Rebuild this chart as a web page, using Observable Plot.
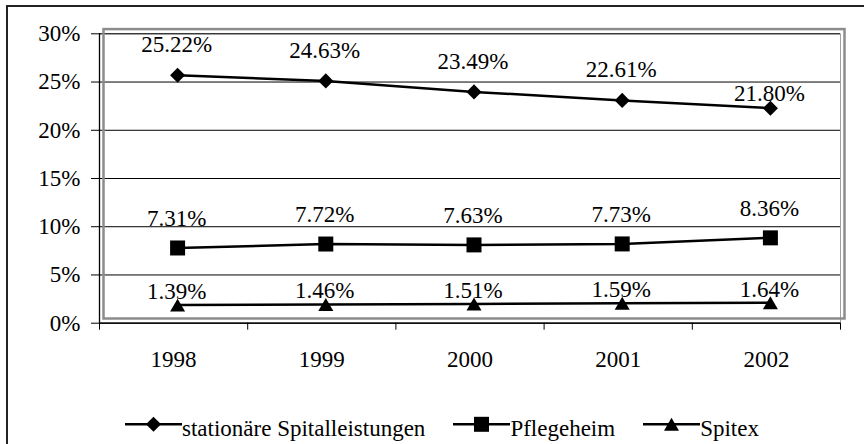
<!DOCTYPE html>
<html><head><meta charset="utf-8">
<script src="https://cdn.jsdelivr.net/npm/d3@7"></script>
<script src="https://cdn.jsdelivr.net/npm/@observablehq/plot@0.6"></script>
<style>
html,body{margin:0;padding:0;background:#fff;overflow:hidden;width:864px;height:444px}
#frame{position:absolute;left:6px;top:5px;width:900px;height:500px;border-left:2px solid #222;border-top:2px solid #222;}
#chart{position:absolute;left:0;top:0}
#legend{position:absolute;left:125px;top:416px;display:flex;align-items:flex-start;font-family:"Liberation Serif","Tinos","Times New Roman","Nimbus Roman","DejaVu Serif",serif;font-size:23px;line-height:26px;color:#000;white-space:nowrap}
.item{display:flex;align-items:flex-start;margin-right:28px}
.item svg{display:block}
</style></head><body>
<div id="frame"></div><div id="chart"></div><div id="legend"></div>
<script>
const years = [1998, 1999, 2000, 2001, 2002];
const stationaer = [25.22, 24.63, 23.49, 22.61, 21.80];
const pflegeheim = [7.31, 7.72, 7.63, 7.73, 8.36];
const spitex = [1.39, 1.46, 1.51, 1.59, 1.64];
const seriesNames = ["stationäre Spitalleistungen", "Pflegeheim", "Spitex"];
const yTicks = [0, 5, 10, 15, 20, 25, 30];

const seriesValues = [stationaer, pflegeheim, spitex];
const data = [];
seriesValues.forEach((vals, s) => vals.forEach((v, i) => data.push({series: seriesNames[s], s, year: years[i], last: i === years.length - 1, x: i + 0.5, value: v})));
const bySeries = s => data.filter(d => d.s === s);
const boundaries = d3.range(years.length + 1);
const centers = years.map((_, i) => i + 0.5);
const fmt = d => d.value.toFixed(2) + "%";

const FONT = "'Liberation Serif','Tinos','Times New Roman','Nimbus Roman','DejaVu Serif',serif";
const SH = {dx: 4, dy: -4.7};
const font = {fontSize: 23, fill: "#000", fontFamily: FONT};

const plot = Plot.plot({
  width: 864,
  height: 380,
  marginLeft: 99,
  marginRight: 24,
  marginTop: 33.3,
  marginBottom: 57.3,
  style: {fontFamily: FONT, fontSize: "23px", color: "#000", background: "transparent"},
  x: {type: "linear", domain: [0, years.length], label: null},
  y: {domain: [0, 30], label: null},
  marks: [
    Plot.frame({stroke: "#a0a0a0", strokeWidth: 1}),
    Plot.gridY(yTicks, {stroke: "#000", strokeOpacity: 1, strokeWidth: 1}),
    Plot.frame({...SH, stroke: "#8c8c8c", strokeWidth: 2.5}),
    Plot.ruleX([0], {stroke: "#000", strokeWidth: 1.3}),
    Plot.ruleY([0], {stroke: "#000", strokeWidth: 1.3}),
    Plot.axisY(yTicks, {label: null, tickSize: 8, tickPadding: 11, tickFormat: d => d + "%", stroke: "#000", fill: "#000", fontSize: 23, fontFamily: FONT}),
    Plot.axisX(boundaries, {label: null, tickSize: 7, tickFormat: () => "", stroke: "#000"}),
    Plot.axisX(centers, {label: null, tickSize: 0, tickPadding: 27, tickFormat: d => String(years[Math.floor(d)]), fill: "#000", fontSize: 23, fontFamily: FONT}),
    Plot.line(data, {x: "x", y: "value", z: "series", stroke: "#000", strokeWidth: 2.5, ...SH}),
    Plot.dot(bySeries(0), {x: "x", y: "value", symbol: "diamond2", r: 6.8, fill: "#000", stroke: null, ...SH}),
    Plot.dot(bySeries(1), {x: "x", y: "value", symbol: "square", r: 8.46, fill: "#000", stroke: null, ...SH}),
    Plot.dot(bySeries(2), {x: "x", y: "value", symbol: "triangle", r: 5.57, fill: "#000", stroke: null, dx: 4, dy: -2.5}),
    Plot.text(bySeries(0).filter(d => !d.last), {x: "x", y: "value", text: fmt, dx: 3, dy: -35, ...font}),
    Plot.text(bySeries(0).filter(d => d.last), {x: "x", y: "value", text: fmt, dx: 3, dy: -19, ...font}),
    Plot.text(bySeries(1), {x: "x", y: "value", text: fmt, dx: 3, dy: -34, ...font}),
    Plot.text(bySeries(2), {x: "x", y: "value", text: fmt, dx: 3, dy: -18, ...font})
  ]
});
document.getElementById("chart").appendChild(plot);

// legend
const symbols = [[d3.symbolDiamond2, 6.8], [d3.symbolSquare, 8.46], [d3.symbolTriangle, 5.57]];
const legend = d3.select("#legend");
seriesNames.forEach((name, s) => {
  const item = legend.append("div").attr("class", "item");
  const svg = item.append("svg").attr("width", 57).attr("height", 26);
  svg.append("line").attr("x1", 0).attr("x2", 57).attr("y1", 8.3).attr("y2", 8.3).attr("stroke", "#000").attr("stroke-width", 2.5);
  const [type, r] = symbols[s];
  svg.append("path").attr("transform", `translate(28.5,${s === 2 ? 10.5 : 8.3})`).attr("d", d3.symbol(type, Math.PI * r * r)()).attr("fill", "#000");
  item.append("span").text(name);
});
</script>
</body></html>
